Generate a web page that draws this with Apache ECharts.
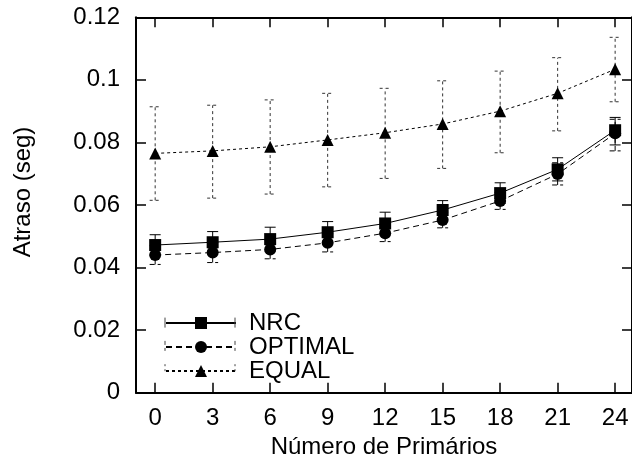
<!DOCTYPE html>
<html>
<head>
<meta charset="utf-8">
<script src="https://cdn.jsdelivr.net/npm/echarts@6/dist/echarts.min.js"></script>
<style>html,body{margin:0;padding:0;background:#fff;}#c{width:632px;height:468px;}</style>
</head>
<body>
<div id="c"></div>
<script>
const xValues = [0, 3, 6, 9, 12, 15, 18, 21, 24];
const yTicks = [0, 0.02, 0.04, 0.06, 0.08, 0.1, 0.12];

const nrc   = [0.0472, 0.0481, 0.0491, 0.0513, 0.0541, 0.0584, 0.0638, 0.0714, 0.0839];
const nrcHi = [0.0505, 0.0515, 0.0529, 0.0547, 0.0577, 0.0614, 0.0671, 0.0751, 0.0880];
const nrcLo = [0.0439, 0.0447, 0.0453, 0.0479, 0.0505, 0.0554, 0.0605, 0.0677, 0.0792];

const opt   = [0.0440, 0.0448, 0.0458, 0.0479, 0.0510, 0.0552, 0.0613, 0.0699, 0.0829];
const optHi = [0.0470, 0.0480, 0.0488, 0.0508, 0.0537, 0.0577, 0.0640, 0.0735, 0.0874];
const optLo = [0.0410, 0.0416, 0.0428, 0.0450, 0.0483, 0.0527, 0.0586, 0.0664, 0.0773];

const eq    = [0.0765, 0.0773, 0.0786, 0.0808, 0.0831, 0.0859, 0.0900, 0.0957, 0.1034];
const eqHi  = [0.0914, 0.0919, 0.0936, 0.0957, 0.0973, 0.0997, 0.1028, 0.1071, 0.1136];
const eqLo  = [0.0615, 0.0622, 0.0635, 0.0658, 0.0685, 0.0717, 0.0767, 0.0837, 0.0930];

const FONT = '"Liberation Sans", Arial, Helvetica, sans-serif';
const chart = echarts.init(document.getElementById('c'), null, {renderer: 'canvas'});

function pts(vals) { return xValues.map((x, i) => [x, vals[i]]); }
function errData(lo, hi) { return xValues.map((x, i) => [x, lo[i], hi[i]]); }

function errSeries(name, lo, hi, dash, color) {
  return {
    name: name,
    type: 'custom',
    data: errData(lo, hi),
    encode: {x: 0, y: [1, 2]},
    z: 2,
    silent: true,
    renderItem: function (params, api) {
      const x = api.value(0);
      const pLo = api.coord([x, api.value(1)]);
      const pHi = api.coord([x, api.value(2)]);
      const w = 5.5;
      const st = {stroke: color, lineWidth: 1, lineDash: dash};
      return {
        type: 'group',
        children: [
          {type: 'line', shape: {x1: pLo[0], y1: pLo[1], x2: pHi[0], y2: pHi[1]}, style: st},
          {type: 'line', shape: {x1: pLo[0] - w, y1: pLo[1], x2: pLo[0] + w, y2: pLo[1]}, style: st},
          {type: 'line', shape: {x1: pHi[0] - w, y1: pHi[1], x2: pHi[0] + w, y2: pHi[1]}, style: st}
        ]
      };
    }
  };
}

const legendLeft = 165, legendTop = 311, legendItemW = 70, rowH = 23.3;
const legendCaps = [];
const capDash = [null, [4, 3], [2, 3]];
for (let r = 0; r < 3; r++) {
  const cy = legendTop + rowH * r + 11.6;
  [legendLeft, legendLeft + legendItemW].forEach(function (cx) {
    legendCaps.push({type: 'line', shape: {x1: cx, y1: cy - 5, x2: cx, y2: cy + 5},
      style: {stroke: '#444', lineWidth: 1, lineDash: capDash[r]}, z: 10});
  });
}

const axisLineStyle = {color: '#000', width: 2};
const tickStyle = {color: '#000', width: 1.5};

const option = {
  animation: false,
  backgroundColor: '#fff',
  textStyle: {fontFamily: FONT},
  grid: {left: 136, top: 17.3, width: 497, height: 375.4, containLabel: false},
  xAxis: [{
    type: 'value', min: -1, max: 24.88,
    name: 'Número de Primários', nameLocation: 'middle', nameGap: 34,
    nameTextStyle: {fontFamily: FONT, fontSize: 24, color: '#000'},
    axisLine: {show: true, onZero: false, lineStyle: axisLineStyle},
    axisTick: {show: true, inside: true, length: 10, customValues: xValues, lineStyle: tickStyle},
    axisLabel: {show: true, customValues: xValues, margin: 14, fontFamily: FONT, fontSize: 24, color: '#000'},
    splitLine: {show: false}
  }, {
    type: 'value', min: -1, max: 24.88, position: 'top',
    axisLine: {show: true, onZero: false, lineStyle: axisLineStyle},
    axisTick: {show: true, inside: true, length: 10, customValues: xValues, lineStyle: tickStyle},
    axisLabel: {show: false},
    splitLine: {show: false}
  }],
  yAxis: [{
    type: 'value', min: 0, max: 0.12, interval: 0.02, position: 'left',
    axisLine: {show: true, onZero: false, lineStyle: axisLineStyle},
    axisTick: {show: true, inside: true, length: 10, lineStyle: tickStyle},
    axisLabel: {show: true, margin: 16, fontFamily: FONT, fontSize: 24, color: '#000',
      formatter: function (v) { return String(parseFloat(v.toFixed(2))); }},
    splitLine: {show: false}
  }, {
    type: 'value', min: 0, max: 0.12, interval: 0.02, position: 'right',
    axisLine: {show: true, onZero: false, lineStyle: axisLineStyle},
    axisTick: {show: true, inside: true, length: 10, lineStyle: tickStyle},
    axisLabel: {show: false},
    splitLine: {show: false}
  }],
  legend: {
    data: ['NRC', 'OPTIMAL', 'EQUAL'],
    orient: 'vertical', left: legendLeft, top: legendTop, padding: 0,
    itemWidth: legendItemW, itemHeight: 15, itemGap: 0,
    textStyle: {fontFamily: FONT, fontSize: 24, color: '#000', lineHeight: rowH, padding: [0, 0, 0, 8]},
    selectedMode: false
  },
  graphic: [{
    type: 'text', x: 23, y: 192, rotation: Math.PI / 2,
    style: {text: 'Atraso (seg)', font: '24px ' + FONT, fill: '#000', textAlign: 'center', textVerticalAlign: 'middle'}
  }].concat(legendCaps),
  series: [
    errSeries('NRC-err', nrcLo, nrcHi, null, '#000'),
    errSeries('OPTIMAL-err', optLo, optHi, [5, 3], '#000'),
    errSeries('EQUAL-err', eqLo, eqHi, [3, 3], '#333'),
    {
      name: 'NRC', type: 'line', data: pts(nrc), z: 5,
      symbol: 'rect', symbolSize: 12, showSymbol: true,
      lineStyle: {color: '#000', width: 1, type: 'solid'},
      itemStyle: {color: '#000'}
    },
    {
      name: 'OPTIMAL', type: 'line', data: pts(opt), z: 5,
      symbol: 'circle', symbolSize: 12, showSymbol: true,
      lineStyle: {color: '#000', width: 1, type: [6, 4]},
      itemStyle: {color: '#000'}
    },
    {
      name: 'EQUAL', type: 'line', data: pts(eq), z: 5,
      symbol: 'triangle', symbolSize: 12, showSymbol: true,
      lineStyle: {color: '#000', width: 1, type: [3, 3]},
      itemStyle: {color: '#000'}
    }
  ]
};
chart.setOption(option);
</script>
</body>
</html>
